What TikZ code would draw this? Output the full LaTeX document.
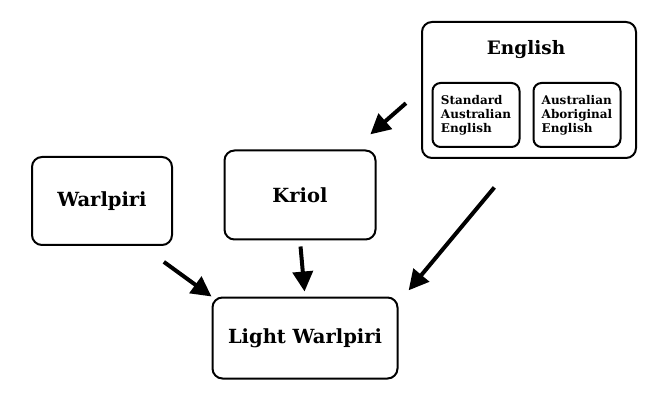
\documentclass[tikz,border=0pt]{standalone}
\usepackage{fontspec}
\setmainfont{DejaVu Serif}
\usetikzlibrary{positioning, calc, arrows.meta}

\begin{document}
\begin{tikzpicture}[
    x=1pt, y=-1pt,
    >={Triangle[length=20pt, width=20pt]},
    lang/.style={draw, line width=2pt, rounded corners=10pt, font=\bfseries\fontsize{19.5}{23}\selectfont, align=center},
    sublang/.style={draw, line width=2pt, rounded corners=8pt, font=\bfseries\fontsize{12}{14}\selectfont, align=left,
        minimum width=87pt, minimum height=64pt, inner sep=0pt},
    feed/.style={->, line width=4pt}
]
\useasboundingbox (0,0) rectangle (664,406);

% boxes
\node[lang, minimum width=140pt, minimum height=88pt] (warlpiri) at (102,201) {Warlpiri};
\node[lang, minimum width=151pt, minimum height=89pt] (kriol) at (300,195) {Kriol};
\node[lang, minimum width=214pt, minimum height=136pt] (english) at (529,90) {};
\node[font=\bfseries\fontsize{18.5}{22}\selectfont] (englishtitle) at (526,50) {English};
\node[sublang] (sae) at (476,115) {Standard\\Australian\\English};
\node[sublang] (aae) at (577,115) {Australian\\Aboriginal\\English};
\node[lang, minimum width=185pt, minimum height=81pt] (lw) at (305,338) {Light Warlpiri};

% arrows
\draw[feed, shorten <=27pt] ($(warlpiri.south)+(40,0)$) -- (lw.north west);
\draw[feed, shorten <=6pt, shorten >=5pt] (kriol.south) -- (lw.north);
\draw[feed, shorten <=37pt, shorten >=8pt] ($(english.south)+(-11,0)$) -- ($(lw.north east)+(5,0)$);
\draw[feed, shorten <=20pt, shorten >=23pt] (english.west) -- ($(kriol.north)+(53,0)$);

\end{tikzpicture}
\end{document}
